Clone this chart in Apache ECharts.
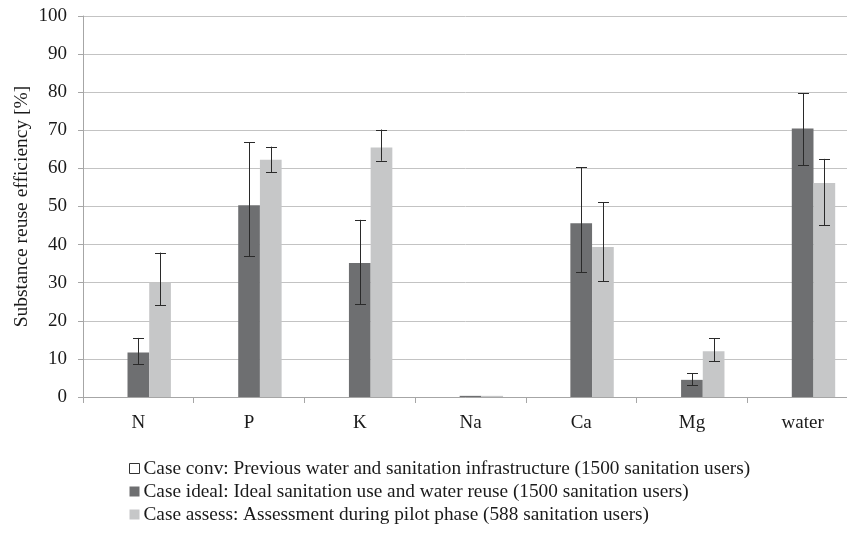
<!DOCTYPE html>
<html><head><meta charset="utf-8">
<script src="https://cdn.jsdelivr.net/npm/echarts@6/dist/echarts.min.js"></script>
<style>html,body{margin:0;padding:0;background:#fff}#c{width:847px;height:534px}</style>
</head><body><div id="c"></div>
<script>
var categories = ['N','P','K','Na','Ca','Mg','water'];
var convValues = [0,0,0,0,0,0,0];
var idealValues = [11.7,50.3,35.2,0.3,45.6,4.5,70.5];
var idealLow = [8.6,37.0,24.3,0.3,32.8,3.1,60.8];
var idealHigh = [15.5,66.8,46.5,0.3,60.3,6.2,79.7];
var assessValues = [30.0,62.3,65.5,0.3,39.4,12.0,56.2];
var assessLow = [24.1,59.0,62.0,0.3,30.4,9.4,45.1];
var assessHigh = [37.9,65.7,70.2,0.3,51.1,15.4,62.5];
var yTicks = [0,10,20,30,40,50,60,70,80,90,100];

var names = [
 'Case conv: Previous water and sanitation infrastructure (1500 sanitation users)',
 'Case ideal: Ideal sanitation use and water reuse (1500 sanitation users)',
 'Case assess: Assessment during pilot phase (588 sanitation users)'
];
var BW = 0.196;
function errSeries(low, high, offsetIdx){
  return {
    type:'custom', silent:true, z:10,
    data: categories.map(function(c,i){return [i, low[i], high[i]];}),
    encode:{x:0,y:[1,2]},
    renderItem:function(params, api){
      var band = api.size([1,0])[0];
      var off = band*BW*offsetIdx;
      var lo = api.coord([api.value(0), api.value(1)]);
      var hi = api.coord([api.value(0), api.value(2)]);
      if (Math.abs(lo[1]-hi[1])<0.5) return null;
      var x = Math.round(lo[0]+off)+0.5;
      var hw = 5.5;
      var st = {stroke:'#2a2a2a', lineWidth:1};
      return {type:'group', children:[
        {type:'line', shape:{x1:x,y1:lo[1],x2:x,y2:hi[1]}, style:st},
        {type:'line', shape:{x1:x-hw,y1:Math.round(lo[1])+0.5,x2:x+hw,y2:Math.round(lo[1])+0.5}, style:st},
        {type:'line', shape:{x1:x-hw,y1:Math.round(hi[1])+0.5,x2:x+hw,y2:Math.round(hi[1])+0.5}, style:st}
      ]};
    }
  };
}
var font = 'Liberation Serif';
var chart = echarts.init(document.getElementById('c'));
chart.setOption({
  animation:false,
  textStyle:{fontFamily:font},
  grid:{left:83, top:16, width:775, height:381, containLabel:false, outerBoundsMode:'none'},
  legend:{
    orient:'vertical', left:124, top:454, itemWidth:10, itemHeight:10, itemGap:4,
    selectedMode:false,
    textStyle:{fontFamily:font, fontSize:19.3, color:'#1a1a1a', padding:[0,0,0,-1]},
    data:[
      {name:names[0], icon:'rect', itemStyle:{color:'#ffffff', borderColor:'#333', borderWidth:1}},
      {name:names[1], icon:'rect'},
      {name:names[2], icon:'rect'}
    ]
  },
  xAxis:{
    type:'category', data:categories,
    axisLine:{lineStyle:{color:'#a6a6a6'}},
    axisTick:{show:true, length:6, lineStyle:{color:'#a6a6a6'}},
    axisLabel:{color:'#1a1a1a', fontSize:19, fontFamily:font, margin:17}
  },
  yAxis:{
    type:'value', min:0, max:100, interval:10,
    name:'Substance reuse efficiency [%]', nameLocation:'middle', nameGap:51, nameRotate:90,
    nameMoveOverlap:false,
    nameTextStyle:{color:'#1a1a1a', fontSize:19.5, fontFamily:font},
    axisLine:{show:true, lineStyle:{color:'#a6a6a6'}},
    axisTick:{show:true, length:5, lineStyle:{color:'#a6a6a6'}},
    axisLabel:{color:'#1a1a1a', fontSize:19, fontFamily:font, margin:16,
      formatter:function(v){return yTicks.indexOf(v)>=0?String(v):'';}},
    splitLine:{lineStyle:{color:'#c3c3c3', width:1}}
  },
  series:[
    {name:names[0], type:'bar', data:convValues, barWidth:(BW*100)+'%', barGap:'0%',
     itemStyle:{color:'#ffffff', borderWidth:0}},
    {name:names[1], type:'bar', data:idealValues, barWidth:(BW*100)+'%', barGap:'0%',
     itemStyle:{color:'#6e6f71'}},
    {name:names[2], type:'bar', data:assessValues, barWidth:(BW*100)+'%', barGap:'0%',
     itemStyle:{color:'#c6c7c8'}},
    errSeries(idealLow, idealHigh, 0),
    errSeries(assessLow, assessHigh, 1)
  ]
});
</script>
</body></html>
